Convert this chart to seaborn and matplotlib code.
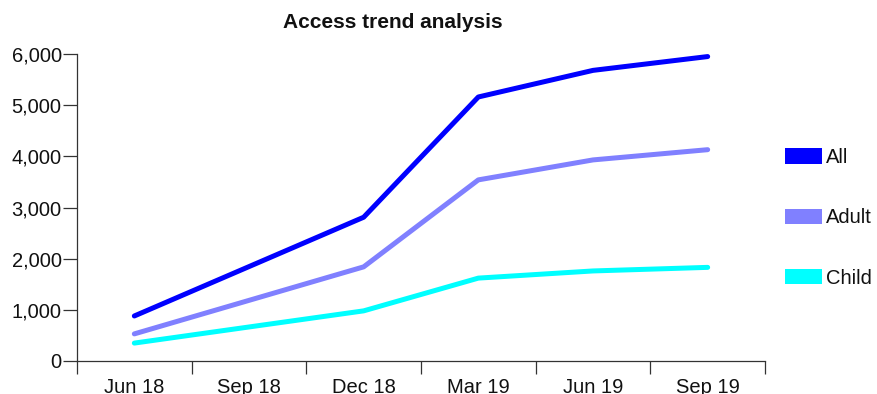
import matplotlib
matplotlib.use("Agg")
import matplotlib.pyplot as plt
import seaborn as sns
import pandas as pd
import numpy as np
from matplotlib.patches import Patch
from matplotlib.ticker import FuncFormatter, FixedLocator

categories = ["Jun 18", "Sep 18", "Dec 18", "Mar 19", "Jun 19", "Sep 19"]
all_vals = [880, 1845, 2810, 5160, 5680, 5950]
adult_vals = [530, 1185, 1840, 3540, 3930, 4130]
child_vals = [350, 665, 980, 1620, 1760, 1830]
series_names = ["All", "Adult", "Child"]
colors = ["#0000FF", "#8080FF", "#00FFFF"]

rows = []
for name, vals in zip(series_names, [all_vals, adult_vals, child_vals]):
    for i, (c, v) in enumerate(zip(categories, vals)):
        rows.append({"idx": i, "period": c, "value": v, "series": name})
df = pd.DataFrame(rows)

sns.set_style("white")
plt.rcParams["font.family"] = ["Liberation Sans", "DejaVu Sans"]

FS = 14.5

fig = plt.figure(figsize=(8.77, 3.94), dpi=100)
ax = fig.add_axes([77/877, 1-361/394, (765-77)/877, (361-54)/394])

sns.lineplot(data=df, x="idx", y="value", hue="series", hue_order=series_names,
             palette=colors, linewidth=3.6, ax=ax, legend=False,
             solid_capstyle="round")

ax.set_xlim(-0.5, len(categories) - 0.5)
ax.set_ylim(0, 6000)
ax.set_xlabel("")
ax.set_ylabel("")

ax.set_xticks(range(len(categories)))
ax.set_xticklabels(categories, fontsize=FS, color="#111111")
ax.xaxis.set_minor_locator(FixedLocator(np.arange(-0.5, len(categories), 1.0)))
ax.tick_params(axis="x", which="major", length=0, pad=12)
ax.tick_params(axis="x", which="minor", length=9.5, width=0.9, color="#333333", direction="out", bottom=True)

ax.set_yticks([0, 1000, 2000, 3000, 4000, 5000, 6000])
ax.yaxis.set_major_formatter(FuncFormatter(lambda v, p: f"{int(v):,}"))
ax.tick_params(axis="y", length=10, width=0.9, color="#333333", labelsize=FS,
               labelcolor="#111111", pad=1, left=True)

for s in ["top", "right"]:
    ax.spines[s].set_visible(False)
for s in ["left", "bottom"]:
    ax.spines[s].set_color("#333333")
    ax.spines[s].set_linewidth(0.9)

fig.text(393/877, 1-22/394, "Access trend analysis", ha="center", va="center",
         fontsize=15, fontweight="bold", color="#111111")

handles = [Patch(facecolor=c, edgecolor="none", label=n) for n, c in zip(series_names, colors)]
leg = fig.legend(handles=handles, loc="upper left", bbox_to_anchor=(785/877, 1-148/394),
                 frameon=False, fontsize=FS, handlelength=1.84, handleheight=0.8,
                 handletextpad=0.2, labelspacing=2.05, borderaxespad=0, borderpad=0)
for t in leg.get_texts():
    t.set_color("#111111")

fig.savefig("out.png", dpi=100)
